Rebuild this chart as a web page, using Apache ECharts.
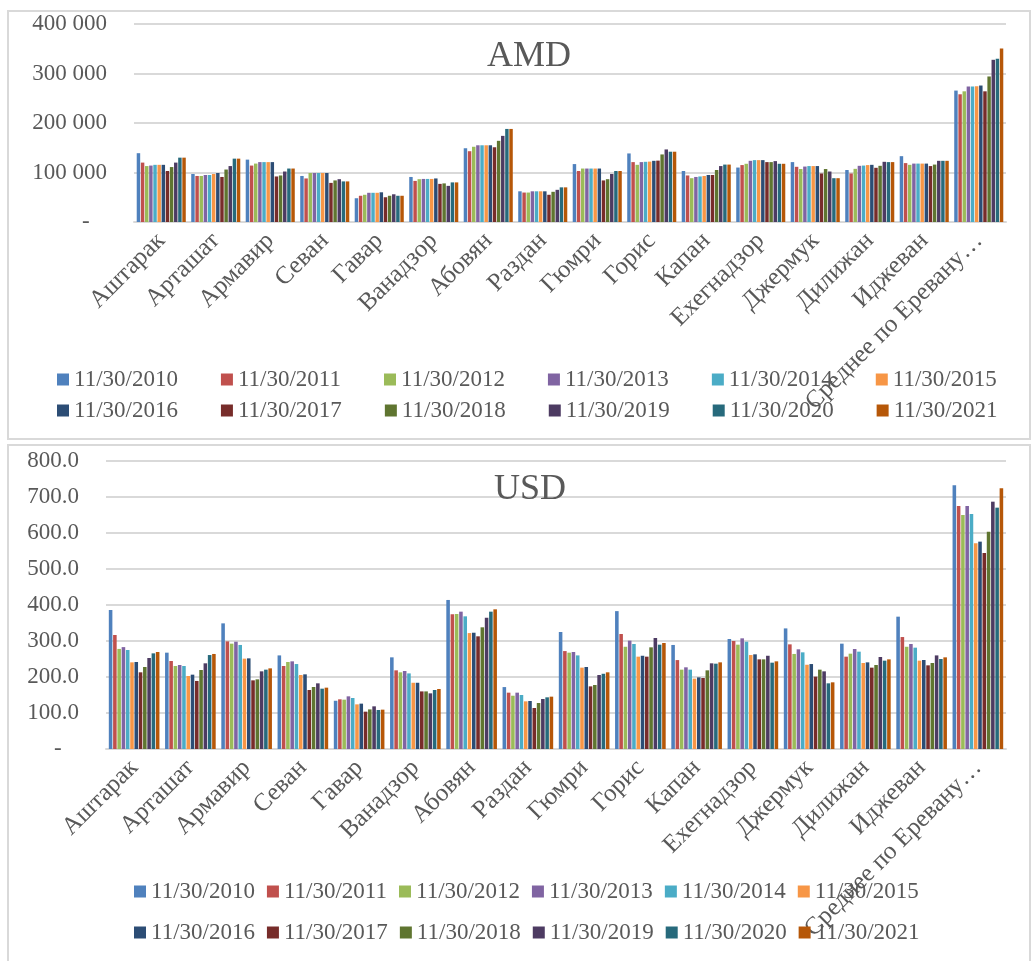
<!DOCTYPE html>
<html>
<head>
<meta charset="utf-8">
<script src="https://cdn.jsdelivr.net/npm/echarts@6/dist/echarts.min.js"></script>
<style>
html,body{margin:0;padding:0;background:#fff;}
#chart{width:1036px;height:961px;}
</style>
</head>
<body>
<div id="chart"></div>
<script>
var categories = ['Аштарак','Арташат','Армавир','Севан','Гавар','Ванадзор','Абовян','Раздан','Гюмри','Горис','Капан','Ехегнадзор','Джермук','Дилижан','Иджеван','Среднее по Еревану…'];
var seriesNames = ['11/30/2010','11/30/2011','11/30/2012','11/30/2013','11/30/2014','11/30/2015','11/30/2016','11/30/2017','11/30/2018','11/30/2019','11/30/2020','11/30/2021'];
var colors = ['#4F81BD','#C0504D','#9BBB59','#8064A2','#4BACC6','#F79646','#2C4D75','#772C2A','#5F7530','#4D3B62','#276A7C','#B65708'];

var amdTicks = [0,100000,200000,300000,400000];
var usdTicks = [0,100,200,300,400,500,600,700,800];

var amd2010 = [139000,97000,126000,93000,48000,91000,149000,62000,117000,138500,103000,110000,121000,105000,133000,265500];
var amd2011 = [120000,93000,114000,88000,53000,83000,143000,59500,103000,121000,94000,115000,111500,98000,119000,258000];
var amd2012 = [113000,93000,118000,99000,55000,86500,152000,59500,108000,115500,88500,117600,107000,107400,115500,264000];
var amd2013 = [114000,95000,121000,99000,59000,87000,155000,62000,108000,121000,91000,123600,112000,113500,118000,273600];
var amd2014 = [115500,95000,121000,99000,59000,87000,155000,62000,108000,121600,92000,125000,113000,114000,118000,273600];
var amd2015 = [115500,97000,121000,99000,59000,87000,155000,62000,108000,122000,93000,125000,113000,115000,118000,274000];
var amd2016 = [115500,99000,121000,99000,60000,88000,155000,62000,108000,123600,95000,125000,113000,115500,118000,275700];
var amd2017 = [103000,91000,92000,79000,50000,77000,151000,55000,84000,124000,95000,121000,98000,109500,113000,264000];
var amd2018 = [111000,106000,94000,84000,53000,78000,164000,61000,86500,136500,105000,121000,107000,113500,116000,294000];
var amd2019 = [120000,113000,102000,86500,56000,73000,174000,65000,97000,146600,113000,123000,102000,121600,123600,327700];
var amd2020 = [130000,128000,108000,82000,53000,80000,188000,70000,103000,142000,116000,117600,88500,121000,123600,330000];
var amd2021 = [130000,128000,108000,82000,53000,80000,188000,70000,103000,142000,116000,117600,88500,121000,123600,350700];

var usd2010 = [386,267.6,349,260,134,254.6,414,172,325,383,289,305.6,335,292.6,367.6,732.4];
var usd2011 = [316.7,244.4,299,230.6,138,218.5,374,156.5,272,319.4,247,300,290.7,256.5,311,675];
var usd2012 = [278,230.6,292.6,241.7,137,213,375,148,267.6,284,220.4,289.8,264,264.8,284,650];
var usd2013 = [283,233.3,298,243.5,146.3,216.7,381.5,156.5,269.4,301,226.9,307.4,276.9,277.8,291.7,675];
var usd2014 = [275,230.6,289,236,141.7,210,368.5,150,260,291.7,220.4,298,268.5,270.4,281.5,652.8];
var usd2015 = [240.7,202.8,251,205.6,124,184,322,132.4,226,256.5,195.4,261,234,238.9,245.4,571.3];
var usd2016 = [241.7,206.5,251.8,207.4,126,184,323,133.3,227.8,259,199,263,236,240.7,247.2,576];
var usd2017 = [213,189,190.7,163.9,103.7,160,313,113.9,174,256.5,197.2,249,201,226,232.4,544.4];
var usd2018 = [227.8,219.4,193.5,172.2,110,160,338,127.8,177.8,282.4,218.5,249,220.4,233.3,238.9,603.7];
var usd2019 = [252.8,238,215.7,182.4,118.5,154.6,364.8,138.9,205.6,308.3,238,259,215.7,255.6,260,687];
var usd2020 = [265.7,261,220.4,167.6,108.3,163.9,381.5,143.5,209,289.8,237,239.8,182.4,245.4,250,670.4];
var usd2021 = [269.4,264,224,170.4,109.3,166.7,388,145.4,213,294.4,240.7,243.5,185.2,249,254.6,724];

var amdData = [amd2010,amd2011,amd2012,amd2013,amd2014,amd2015,amd2016,amd2017,amd2018,amd2019,amd2020,amd2021];
var usdData = [usd2010,usd2011,usd2012,usd2013,usd2014,usd2015,usd2016,usd2017,usd2018,usd2019,usd2020,usd2021];

var FONT = 'Liberation Serif';
var TXT = '#595959';
var GRID = '#D9D9D9';

var chart = echarts.init(document.getElementById('chart'), null, {renderer:'canvas'});

function xAxisCfg(gi){
  return {
    type:'category', gridIndex:gi, data:categories,
    axisLine:{show:true, lineStyle:{color:GRID, width:2}},
    axisTick:{show:false},
    axisLabel:{interval:0, rotate:45, margin:15, fontFamily:FONT, fontSize:25, color:TXT}
  };
}
function yAxisCfg(gi, ticks, fmt){
  return {
    type:'value', gridIndex:gi, min:ticks[0], max:ticks[ticks.length-1], interval:ticks[1]-ticks[0],
    axisLine:{show:false}, axisTick:{show:false},
    splitLine:{lineStyle:{color:GRID, width:2}},
    axisLabel:{margin:27, fontFamily:FONT, fontSize:23, color:TXT, formatter:fmt}
  };
}
var fmtAmd = function(v){ return v===0 ? '-   ' : String(v).replace(/\B(?=(\d{3})+(?!\d))/g,' '); };
var fmtUsd = function(v){ return v===0 ? '-   ' : v.toFixed(1); };

var series = [];
for (var i=0;i<seriesNames.length;i++){
  series.push({type:'bar', name:seriesNames[i], xAxisIndex:0, yAxisIndex:0, data:amdData[i],
    barGap:'20%', barCategoryGap:'10%', itemStyle:{color:colors[i]}, animation:false});
}
for (var j=0;j<seriesNames.length;j++){
  series.push({type:'bar', name:seriesNames[j], xAxisIndex:1, yAxisIndex:1, data:usdData[j],
    barGap:'20%', barCategoryGap:'10%', itemStyle:{color:colors[j]}, animation:false});
}

function legendCfg(left, top, names, gap){
  return {left:left, top:top, orient:'horizontal', padding:0, itemGap:gap, itemWidth:12, itemHeight:12,
    icon:'rect', data:names, selectedMode:false,
    formatter:function(n){ return '{t|' + n + '}'; },
    textStyle:{fontFamily:FONT, fontSize:23, color:TXT,
      rich:{t:{fontFamily:FONT, fontSize:23, color:TXT}}}};
}

var option = {
  backgroundColor:'#fff',
  animation:false,
  color:colors,
  textStyle:{fontFamily:FONT, color:TXT},
  title:[
    {text:'AMD', left:524, top:34, textAlign:'center', textStyle:{fontFamily:FONT, fontSize:36, fontWeight:'normal', color:TXT}},
    {text:'USD', left:525, top:467, textAlign:'center', textStyle:{fontFamily:FONT, fontSize:36, fontWeight:'normal', color:TXT}}
  ],
  graphic:[
    {type:'rect', shape:{x:8, y:11, width:1022, height:428}, style:{fill:'none', stroke:GRID, lineWidth:2}, silent:true},
    {type:'rect', shape:{x:8, y:445, width:1022, height:530}, style:{fill:'none', stroke:GRID, lineWidth:2}, silent:true}
  ],
  legend:[
    legendCfg(57, 368, seriesNames.slice(0,6), 43),
    legendCfg(57, 399, seriesNames.slice(6,12), 43),
    legendCfg(134, 880, seriesNames.slice(0,6), 12),
    legendCfg(134, 921, seriesNames.slice(6,12), 12)
  ],
  grid:[
    {left:134, right:30, top:24, height:198, containLabel:false},
    {left:106, right:30, top:461, height:288, containLabel:false}
  ],
  xAxis:[xAxisCfg(0), xAxisCfg(1)],
  yAxis:[yAxisCfg(0, amdTicks, fmtAmd), yAxisCfg(1, usdTicks, fmtUsd)],
  series:series
};
chart.setOption(option);
</script>
</body>
</html>
